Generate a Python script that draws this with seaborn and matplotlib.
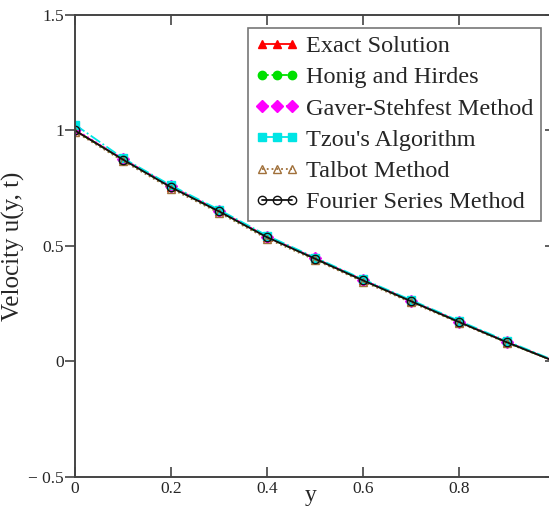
import matplotlib
matplotlib.use('Agg')
import matplotlib.pyplot as plt
import numpy as np
import pandas as pd
import seaborn as sns

# data
y_pos = [0.0, 0.1, 0.2, 0.3, 0.4, 0.5, 0.6, 0.7, 0.8, 0.9, 1.0]
exact = [1.000, 0.876, 0.757, 0.652, 0.540, 0.446, 0.352, 0.262, 0.172, 0.084, 0.0]
honig = [1.000, 0.874, 0.755, 0.650, 0.538, 0.445, 0.351, 0.261, 0.171, 0.083, 0.0]
gaver = [1.005, 0.877, 0.758, 0.653, 0.541, 0.447, 0.353, 0.263, 0.173, 0.084, 0.001]
tzou = [1.025, 0.880, 0.762, 0.657, 0.545, 0.450, 0.356, 0.266, 0.176, 0.088, 0.003]
talbot = [0.995, 0.868, 0.748, 0.644, 0.532, 0.440, 0.346, 0.256, 0.168, 0.080, 0.0]
fourier = [1.000, 0.874, 0.754, 0.650, 0.538, 0.445, 0.351, 0.261, 0.171, 0.083, 0.0]

y_ticks = [-0.5, 0, 0.5, 1, 1.5]
y_ticklabels = ['\u2212 0.5', '0', '0.5', '1', '1.5']
x_ticks = [0, 0.2, 0.4, 0.6, 0.8, 1.0]
x_ticklabels = ['0', '0.2', '0.4', '0.6', '0.8', '']

series = [
    ('Exact Solution', exact, '#ff0000', '^', '-', '#ff0000'),
    ('Honig and Hirdes', honig, '#00e000', 'o', '--', '#00e000'),
    ('Gaver-Stehfest Method', gaver, '#ff00ff', 'D', ':', '#ff00ff'),
    ("Tzou's Algorithm", tzou, '#00e5e5', 's', '-.', '#00e5e5'),
    ('Talbot Method', talbot, '#a0703a', '^', ':', 'none'),
    ('Fourier Series Method', fourier, '#111111', 'o', '-', 'none'),
]

sns.set_style('white')
plt.rcParams['font.family'] = ['Liberation Serif', 'DejaVu Serif']

fig = plt.figure(figsize=(5.49, 5.09), dpi=100)
ax = fig.add_axes([0.1366, 0.0629, 0.8743, 0.9077])

for name, vals, color, marker, ls, face in series:
    df = pd.DataFrame({'y': y_pos, 'u': vals})
    sns.lineplot(data=df, x='y', y='u', ax=ax, color=color, marker=marker,
                 linestyle=ls, linewidth=1.3, markersize=6,
                 markerfacecolor=face, markeredgecolor=color,
                 markeredgewidth=1.0, label=name)

ax.set_xlim(0, 1.0)
ax.set_ylim(-0.5, 1.5)
ax.set_yticks(y_ticks)
ax.set_yticklabels(y_ticklabels)
ax.set_xticks(x_ticks)
ax.set_xticklabels(x_ticklabels)

for sp in ax.spines.values():
    sp.set_color('#444444')
    sp.set_linewidth(1.4)

ax.tick_params(axis='y', which='both', direction='out', length=7, width=1.2,
               color='#444444', labelsize=12.5, pad=1, left=True, right=True)
ax.tick_params(axis='x', which='both', direction='in', length=7, width=1.2,
               color='#444444', labelsize=12.5, pad=3, bottom=True, top=True)
# right-hand ticks point inward
for t in ax.yaxis.get_ticklines()[1::2]:
    t.set_marker(matplotlib.markers.TICKLEFT)

ax.set_xlabel('y', fontsize=17, va='center')
ax.xaxis.set_label_coords(0.49, -0.04)
ax.set_ylabel('Velocity u(y, t)', fontsize=18)
ax.yaxis.set_label_coords(-0.105, 0.5)

leg = ax.legend(loc='upper left', bbox_to_anchor=(0.36, 0.972), borderaxespad=0,
                fontsize=17.5, numpoints=3, handlelength=1.8, handletextpad=0.3,
                labelspacing=0.38, borderpad=0.3, frameon=True, fancybox=False)
leg.get_frame().set_edgecolor('#555555')
leg.get_frame().set_linewidth(1.2)

fig.savefig('out.png', dpi=100)
